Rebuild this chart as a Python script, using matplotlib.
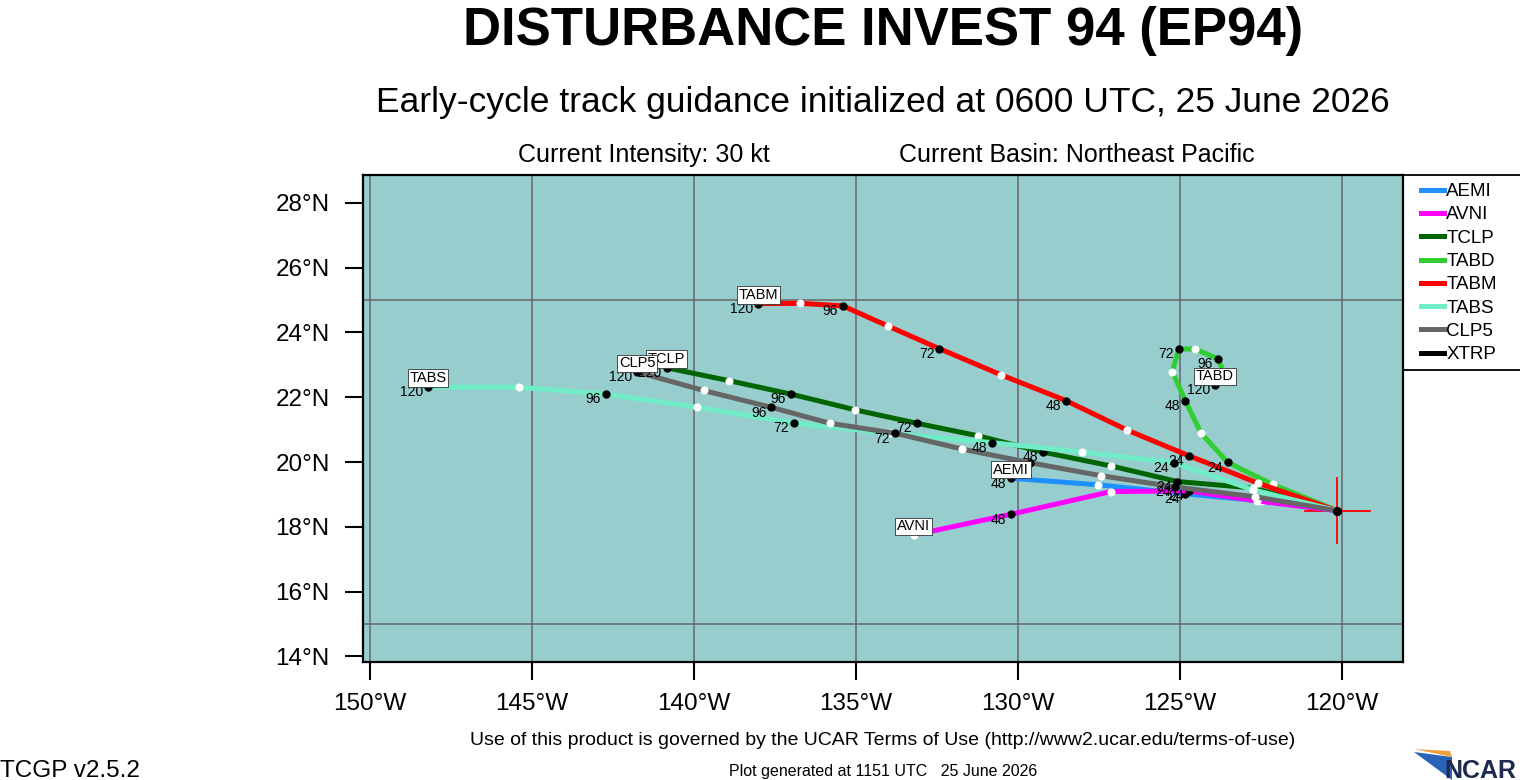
import matplotlib
matplotlib.use('Agg')
import matplotlib.pyplot as plt
from matplotlib.lines import Line2D
from matplotlib.patches import Rectangle, Polygon
from matplotlib.ticker import FixedLocator

plt.rcParams['font.family'] = ['Liberation Sans', 'DejaVu Sans']

# ---------------- data ----------------
models = ['AEMI', 'AVNI', 'TCLP', 'TABD', 'TABM', 'TABS', 'CLP5', 'XTRP']
colors = ['#1E90FF', '#FF00FF', '#006400', '#32CD32', '#FF0000', '#70EDC6', '#666666', '#000000']
forecast_hours = [0, 12, 24, 36, 48, 60, 72, 84, 96, 108, 120]

AEMI_lon = [-120.15, -122.47, -124.85, -127.54, -130.22]
AEMI_lat = [18.50, 18.80, 19.02, 19.30, 19.50]
AVNI_lon = [-120.15, -122.62, -124.72, -127.13, -130.22, -133.22]
AVNI_lat = [18.50, 18.80, 19.11, 19.09, 18.39, 17.75]
TCLP_lon = [-120.15, -122.74, -125.09, -127.13, -129.24, -131.23, -133.13, -135.02, -137.02, -138.91, -140.85]
TCLP_lat = [18.50, 19.20, 19.40, 19.88, 20.31, 20.81, 21.20, 21.61, 22.10, 22.51, 22.91]
TABD_lon = [-120.15, -122.14, -123.53, -124.35, -124.84, -125.24, -125.04, -124.54, -123.84, -123.61, -123.92]
TABD_lat = [18.50, 19.31, 19.99, 20.89, 21.90, 22.79, 23.49, 23.49, 23.19, 22.70, 22.38]
TABM_lon = [-120.15, -122.59, -124.74, -126.64, -128.53, -130.52, -132.43, -134.02, -135.41, -136.73, -138.02]
TABM_lat = [18.50, 19.35, 20.20, 20.99, 21.90, 22.69, 23.50, 24.20, 24.82, 24.90, 24.89]
TABS_lon = [-120.15, -122.74, -125.19, -128.04, -130.82, -133.95, -136.91, -139.90, -142.72, -145.40, -148.21]
TABS_lat = [18.50, 19.14, 19.98, 20.31, 20.60, 20.89, 21.20, 21.69, 22.10, 22.31, 22.32]
CLP5_lon = [-120.15, -122.69, -125.15, -127.44, -129.63, -131.72, -133.80, -135.82, -137.62, -139.71, -141.76]
CLP5_lat = [18.50, 18.93, 19.23, 19.58, 19.98, 20.40, 20.89, 21.20, 21.69, 22.21, 22.78]
XTRP_lon = [-120.15]
XTRP_lat = [18.50]

track_lons = [AEMI_lon, AVNI_lon, TCLP_lon, TABD_lon, TABM_lon, TABS_lon, CLP5_lon, XTRP_lon]
track_lats = [AEMI_lat, AVNI_lat, TCLP_lat, TABD_lat, TABM_lat, TABS_lat, CLP5_lat, XTRP_lat]

x_ticks = [-150, -145, -140, -135, -130, -125, -120]
y_ticks = [14, 16, 18, 20, 22, 24, 26, 28]
grid_lats = [15, 20, 25]

title = 'DISTURBANCE INVEST 94 (EP94)'
subtitle = 'Early-cycle track guidance initialized at 0600 UTC, 25 June 2026'
intensity_txt = 'Current Intensity: 30 kt'
basin_txt = 'Current Basin: Northeast Pacific'
terms_txt = 'Use of this product is governed by the UCAR Terms of Use (http://www2.ucar.edu/terms-of-use)'
generated_txt = 'Plot generated at 1151 UTC   25 June 2026'
version_txt = 'TCGP v2.5.2'

# ---------------- figure ----------------
W, H = 1520, 780
fig = plt.figure(figsize=(W / 100, H / 100), dpi=100)
ax = fig.add_axes([363 / W, 1 - 662 / H, 1040 / W, 487 / H])
ax.set_facecolor('#97CECD')
ax.set_xlim(-150.22, -118.12)
ax.set_ylim(13.83, 28.86)

ax.set_xticks(x_ticks)
ax.set_xticklabels([f'{abs(v)}\u00b0W' for v in x_ticks])
ax.set_yticks(y_ticks)
ax.set_yticklabels([f'{v}\u00b0N' for v in y_ticks])
ax.tick_params(axis='both', which='major', length=13, width=1.5, labelsize=17.5, direction='out')
ax.tick_params(axis='x', pad=9)
ax.tick_params(axis='y', pad=11)
ax.yaxis.set_minor_locator(FixedLocator(grid_lats))
ax.tick_params(axis='y', which='minor', length=0)
ax.xaxis.grid(True, which='major', color='#666666', lw=1.1)
ax.yaxis.grid(True, which='minor', color='#666666', lw=1.1)
ax.yaxis.grid(False, which='major')
ax.set_axisbelow(True)
for s in ax.spines.values():
    s.set_linewidth(1.6)
    s.set_zorder(10)

# initial position cross
lon0, lat0 = track_lons[0][0], track_lats[0][0]
ax.plot([lon0 - 1, lon0 + 1], [lat0, lat0], color='red', lw=1.3, zorder=1.8)
ax.plot([lon0, lon0], [lat0 - 1, lat0 + 1], color='red', lw=1.3, zorder=1.8)

for i, (m, c, lon, lat) in enumerate(zip(models, colors, track_lons, track_lats)):
    z = 2 + i * 0.05
    ax.plot(lon, lat, color=c, lw=3.6, solid_capstyle='round', solid_joinstyle='round', zorder=z)
    ax.plot(lon[1::2], lat[1::2], 'o', color='white', ms=4.8, mec='white', zorder=z + 0.01)
    ax.plot(lon[::2], lat[::2], 'o', color='black', ms=5.0, zorder=z + 0.01)

for i, (m, c, lon, lat) in enumerate(zip(models, colors, track_lons, track_lats)):
    for k in range(2, len(lon), 2):
        ax.annotate(str(forecast_hours[k]), (lon[k], lat[k]), xytext=(-3.5, -3.8),
                    textcoords='offset points', ha='right', va='center', fontsize=10, zorder=6)

for i, (m, c, lon, lat) in enumerate(zip(models, colors, track_lons, track_lats)):
    if len(lon) > 1:
        ax.annotate(m, (lon[-1], lat[-1]), xytext=(0, 1.2), textcoords='offset points',
                    ha='center', va='bottom', fontsize=10.5, zorder=7 + i * 0.01,
                    bbox=dict(boxstyle='square,pad=0.12', fc='white', ec='#333333', lw=0.6))

# legend
fig.patches.append(Rectangle((1403 / W, 1 - 370 / H), 130 / W, 195 / H, transform=fig.transFigure,
                             fill=False, ec='black', lw=1.3, figure=fig))
handles = [Line2D([], [], color=c, lw=3.6) for c in colors]
fig.legend(handles, models, loc='upper left', bbox_to_anchor=(1421 / W, 1 - 183 / H),
           frameon=False, fontsize=13.5, handlelength=1.25, handletextpad=0.1,
           labelspacing=0.33, borderaxespad=0, borderpad=0)

# texts
cx = 883 / W
fig.text(cx, 1 - 45 / H, title, ha='center', va='baseline', fontsize=38, fontweight='bold')
fig.text(cx, 1 - 112 / H, subtitle, ha='center', va='baseline', fontsize=25.5)
fig.text(644 / W, 1 - 162 / H, intensity_txt, ha='center', va='baseline', fontsize=18)
fig.text(1077 / W, 1 - 162 / H, basin_txt, ha='center', va='baseline', fontsize=18)
fig.text(cx, 1 - 745 / H, terms_txt, ha='center', va='baseline', fontsize=14)
fig.text(cx, 1 - 776 / H, generated_txt, ha='center', va='baseline', fontsize=11.5)
fig.text(0.5 / W, 1 - 777 / H, version_txt, ha='left', va='baseline', fontsize=17.5)

# NCAR logo
fig.patches.append(Polygon([(1414 / W, 1 - 752 / H), (1452 / W, 1 - 757 / H), (1452 / W, 1 - 780 / H)],
                           closed=True, transform=fig.transFigure, fc='#2a64b8', ec='none', figure=fig))
fig.patches.append(Polygon([(1414 / W, 1 - 749 / H), (1450 / W, 1 - 751 / H), (1452 / W, 1 - 757 / H)],
                           closed=True, transform=fig.transFigure, fc='#f0a040', ec='none', figure=fig))
fig.text(1516 / W, 1 - 778 / H, 'NCAR', ha='right', va='baseline', fontsize=18, fontweight='bold',
         color='#1c2b4f')

fig.savefig('out.png', dpi=100)
